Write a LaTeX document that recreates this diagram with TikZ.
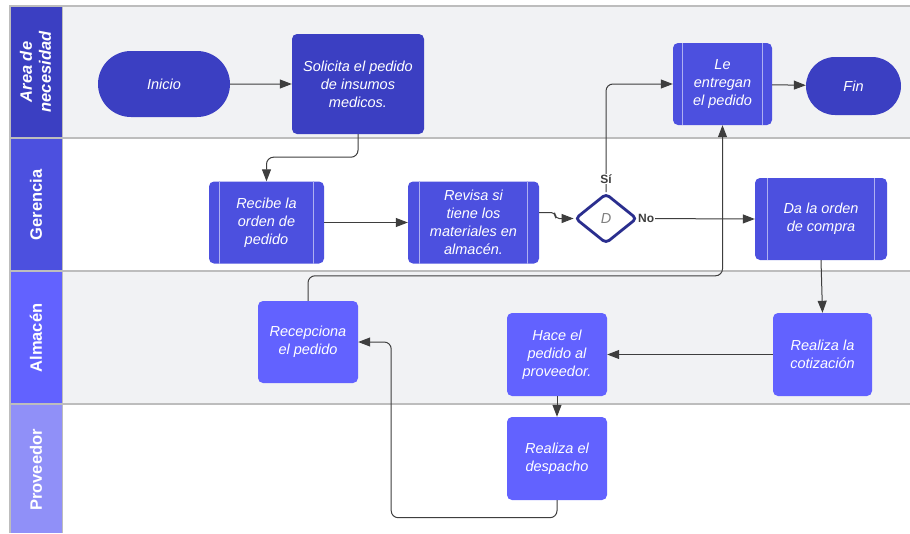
\documentclass[tikz,border=0pt]{standalone}
\usepackage{fontspec}
\setmainfont{Liberation Sans}
\usetikzlibrary{arrows.meta,shapes.geometric,shapes.misc}
\definecolor{cdark}{HTML}{3B3FC2}
\definecolor{cmid}{HTML}{4C50DF}
\definecolor{clight}{HTML}{6262FF}
\definecolor{cprov}{HTML}{9090F8}
\definecolor{lanebg}{HTML}{F1F2F4}
\definecolor{lanebord}{HTML}{BDBDBD}
\definecolor{conn}{HTML}{3E3E3E}
\definecolor{decb}{HTML}{2A2E8E}
\begin{document}
\begin{tikzpicture}[x=1pt,y=-1pt,
  txt/.style={text=white,font=\fontsize{14.5}{18}\selectfont\itshape,align=center,inner sep=0pt},
  proc/.style={txt,rectangle,rounded corners=5pt},
  term/.style={txt,rounded rectangle},
  sub/.style={draw=white!55!cmid,line width=0.9pt},
  arr/.style={draw=conn,line width=1pt,-{Triangle[length=12pt,width=9pt]},rounded corners=7pt},
  lane/.style={text=white,font=\fontsize{16.5}{19}\selectfont\bfseries,align=center,rotate=90},
  lbl/.style={fill=white,text=conn,font=\fontsize{12}{14}\selectfont\bfseries,inner sep=1pt}
]
\useasboundingbox (0,0) rectangle (910,533);
% lanes
\fill[lanebg] (62,6) rectangle (910,138);
\fill[white] (62,138) rectangle (910,271);
\fill[lanebg] (62,271) rectangle (910,404);
\fill[white] (62,404) rectangle (910,533);
\fill[cdark] (10,6) rectangle (62,138);
\fill[cmid] (10,138) rectangle (62,271);
\fill[clight] (10,271) rectangle (62,404);
\fill[cprov] (10,404) rectangle (62,533);
\draw[lanebord,line width=1.5pt] (910,6) -- (10,6) -- (10,533);
\draw[lanebord,line width=1.5pt] (10,138) -- (910,138);
\draw[lanebord,line width=1.5pt] (10,271) -- (910,271);
\draw[lanebord,line width=1.5pt] (10,404) -- (910,404);
\draw[lanebord,line width=1pt] (62,6) -- (62,533);
\node[lane,font=\fontsize{16.5}{19}\selectfont\bfseries\itshape] (l1) at (35.5,72) {Area de\\necesidad};
\node[lane] (l2) at (36,205) {Gerencia};
\node[lane] (l3) at (36,338) {Almacén};
\node[lane] (l4) at (36,470) {Proveedor};
% nodes
\node[term,fill=cdark,minimum width=132pt,minimum height=66pt] (ini) at (164,84) {Inicio};
\node[proc,fill=cdark,minimum width=132pt,minimum height=100pt] (sol) at (358,84) {Solicita el pedido\\de insumos\\medicos.};
\node[proc,fill=cmid,minimum width=99pt,minimum height=82pt] (le) at (722.5,84) {Le\\entregan\\el pedido};
\node[term,fill=cdark,minimum width=95pt,minimum height=58pt] (fin) at (853.5,86) {Fin};
\node[proc,fill=cmid,minimum width=115pt,minimum height=82pt] (rec) at (266.5,222.5) {Recibe la\\orden de\\pedido};
\node[proc,fill=cmid,minimum width=131pt,minimum height=82pt] (rev) at (473.5,222.5) {Revisa si\\tiene los\\materiales en\\almacén.};
\node[diamond,draw=decb,fill=white,line width=2.8pt,rounded corners=4pt,minimum width=62pt,minimum height=50pt,inner sep=0pt,text=gray,font=\fontsize{14.5}{18}\selectfont\itshape] (dec) at (606,218.5) {D};
\node[proc,fill=cmid,minimum width=132pt,minimum height=82pt] (da) at (821,219) {Da la orden\\de compra};
\node[proc,fill=clight,minimum width=100pt,minimum height=82pt] (recp) at (308,342) {Recepciona\\el pedido};
\node[proc,fill=clight,minimum width=100pt,minimum height=83pt] (hace) at (557,354.5) {Hace el\\pedido al\\proveedor.};
\node[proc,fill=clight,minimum width=99pt,minimum height=83pt] (cot) at (822.5,354.5) {Realiza la\\cotización};
\node[proc,fill=clight,minimum width=100pt,minimum height=83pt] (desp) at (557,458.5) {Realiza el\\despacho};
% subprocess lines
\foreach \n/\d in {le/10,rec/11,rev/12,da/13}{
  \draw[sub] ([xshift=\d pt]\n.north west) -- ([xshift=\d pt]\n.south west);
  \draw[sub] ([xshift=-\d pt]\n.north east) -- ([xshift=-\d pt]\n.south east);
}
% connectors
\draw[arr] (ini) -- (sol);
\draw[arr] (sol.south) -- ++(0,23) -| (rec.north);
\draw[arr] (rec) -- (rev);
\draw[arr,rounded corners=4pt] ([yshift=10pt]rev.east) -- ++(16,0) |- (dec.west);
\draw[arr] (dec.north) |- (le.west);
\draw[arr] (dec.east) -- (da.west);
\draw[arr] (le) -- (fin);
\draw[arr] (recp.north) -- ++(0,-25) -| (le.south);
\draw[arr] (da.south) -- (cot.north);
\draw[arr] (cot) -- (hace);
\draw[arr] (hace) -- (desp);
\draw[arr] (desp.south) -- ++(0,17.5) -| ([xshift=33pt]recp.east) -- (recp.east);
% labels
\node[lbl] (si) at (606,179) {Sí};
\node[lbl,anchor=west,inner sep=0.5pt] (no) at ([xshift=-1pt]dec.east) {No};
\end{tikzpicture}
\end{document}
